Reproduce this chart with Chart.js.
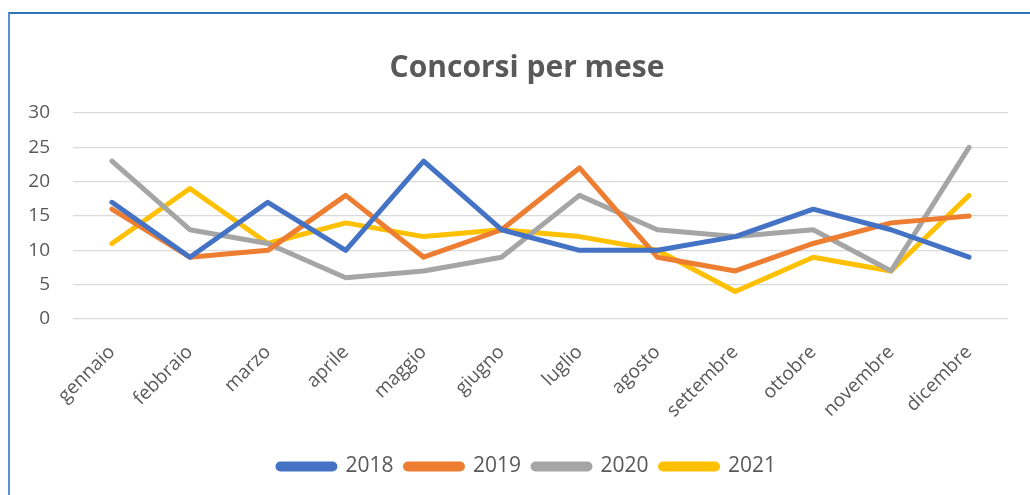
<!DOCTYPE html>
<html>
<head>
<meta charset="utf-8">
<script src="https://cdn.jsdelivr.net/npm/chart.js@4/dist/chart.umd.min.js"></script>
<style>
  html, body { margin: 0; padding: 0; background: #fff; overflow: hidden; }
  #wrap { position: relative; width: 1030px; height: 495px; }
  #cornice { position: absolute; left: 8px; top: 12px; width: 1040px; height: 500px;
    border-left: 2px solid #5b93cf; border-top: 2px solid #2e75b6; box-sizing: border-box; }
  canvas { position: absolute; left: 0; top: 0; }
</style>
</head>
<body>
<div id="wrap">
  <div id="cornice"></div>
  <canvas id="grafico" width="1030" height="495"></canvas>
</div>
<script>
// dati
const mesi = ['gennaio', 'febbraio', 'marzo', 'aprile', 'maggio', 'giugno',
  'luglio', 'agosto', 'settembre', 'ottobre', 'novembre', 'dicembre'];
const anni = ['2018', '2019', '2020', '2021'];
const dati2018 = [17, 9, 17, 10, 23, 13, 10, 10, 12, 16, 13, 9];
const dati2019 = [16, 9, 10, 18, 9, 13, 22, 9, 7, 11, 14, 15];
const dati2020 = [23, 13, 11, 6, 7, 9, 18, 13, 12, 13, 7, 25];
const dati2021 = [11, 19, 11, 14, 12, 13, 12, 10, 4, 9, 7, 18];
const tickY = [0, 5, 10, 15, 20, 25, 30];

const colori = ['#4472c4', '#ed7d31', '#a5a5a5', '#ffc000'];
const serie = [dati2018, dati2019, dati2020, dati2021];
const grigioTesto = '#595959';

const datasets = serie.map((valori, i) => ({
  label: anni[i],
  data: valori,
  borderColor: colori[i],
  backgroundColor: colori[i],
  borderWidth: 5,
  pointRadius: 0,
  pointHoverRadius: 0,
  tension: 0,
  borderJoinStyle: 'round',
  borderCapStyle: 'round'
}));

// sposta titolo e legenda un po' a destra, come nell'originale
const spostaCentro = {
  id: 'spostaCentro',
  afterLayout(chart) {
    [chart.titleBlock, chart.legend].forEach(box => {
      if (box) { box.left += 18; box.right += 18; }
    });
  }
};

const ctx = document.getElementById('grafico');
new Chart(ctx, {
  type: 'line',
  data: { labels: mesi, datasets: datasets },
  plugins: [spostaCentro],
  options: {
    responsive: false,
    animation: false,
    layout: { padding: { left: 10, right: 22, top: 0, bottom: 8 } },
    plugins: {
      title: {
        display: true,
        text: 'Concorsi per mese',
        color: grigioTesto,
        font: { family: 'Open Sans', size: 30, weight: 'bold' },
        padding: { top: 50, bottom: 27 }
      },
      legend: {
        position: 'bottom',
        labels: {
          color: grigioTesto,
          font: { family: 'Open Sans', size: 21 },
          boxWidth: 57,
          boxHeight: 5,
          useBorderRadius: true,
          borderRadius: 2.5,
          padding: 12
        }
      },
      tooltip: { enabled: false }
    },
    scales: {
      x: {
        offset: true,
        grid: { display: false, drawTicks: false },
        border: { display: false },
        ticks: {
          color: grigioTesto,
          font: { family: 'Open Sans', size: 19 },
          minRotation: 45,
          maxRotation: 45,
          padding: 22,
          autoSkip: false
        },
        afterFit: (scale) => { scale.height = 125; }
      },
      y: {
        min: 0,
        max: 30,
        afterBuildTicks: (scale) => { scale.ticks = tickY.map(v => ({ value: v })); },
        grid: { color: '#d9d9d9', lineWidth: 1.3, drawTicks: false },
        border: { display: false },
        ticks: {
          color: grigioTesto,
          font: { family: 'Open Sans', size: 19 },
          padding: 23
        },
        afterFit: (scale) => { scale.width = 63; }
      }
    }
  }
});
</script>
</body>
</html>
